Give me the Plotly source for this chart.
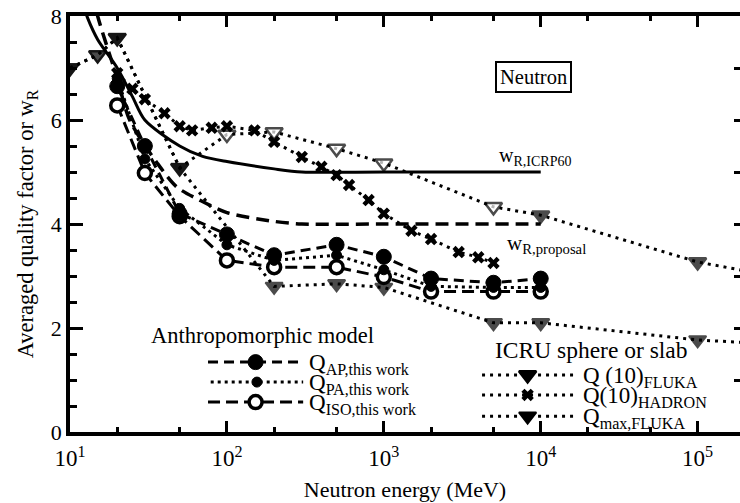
import plotly.graph_objects as go

# ---- neutron energies (MeV) and averaged quality factors ----
e_this_work = [20, 30, 50, 100, 200, 500, 1000, 2000, 5000, 10000]
q_ap = [6.65, 5.5, 4.2, 3.8, 3.4, 3.6, 3.37, 2.95, 2.87, 2.95]
q_pa = [6.8, 5.25, 4.3, 3.6, 3.3, 3.4, 3.12, 2.8, 2.78, 2.78]
q_iso = [6.28, 4.98, 4.15, 3.3, 3.17, 3.17, 2.98, 2.7, 2.7, 2.7]

e_q10_fluka = [10, 15, 20, 50, 100, 200, 500, 1000, 5000, 10000, 1e5, 2e5]
q10_fluka = [7.0, 7.25, 7.58, 5.08, 5.72, 5.77, 5.45, 5.17, 4.33, 4.17, 3.27, 3.1]
q10_fluka_open = [False, True, False, False, True, True, True, True, True, False, False, False]

e_qmax_fluka = [10, 15, 20, 50, 200, 500, 1000, 5000, 10000, 1e5, 2e5]
qmax_fluka = [7.0, 7.25, 7.58, 5.08, 2.8, 2.85, 2.78, 2.1, 2.1, 1.77, 1.72]

e_q10_hadron = [20, 25, 30, 40, 50, 60, 80, 100, 150, 200, 300, 400, 500,
                600, 800, 1000, 1500, 2000, 3000, 4000, 5000]
q10_hadron = [6.9, 6.6, 6.4, 6.13, 5.88, 5.8, 5.85, 5.88, 5.8, 5.58, 5.29, 5.1,
              4.94, 4.75, 4.46, 4.2, 3.87, 3.71, 3.46, 3.36, 3.25]

# radiation weighting factors
e_wr_icrp60 = [11, 13, 15, 20, 25, 30, 50, 70, 100, 200, 300, 1000, 10000]
wr_icrp60 = [8.6, 7.95, 7.55, 7.0, 6.45, 6.0, 5.5, 5.3, 5.2, 5.06, 5.0, 5.0, 5.0]

e_wr_proposal = [13, 15, 20, 24, 36, 48, 67, 100, 200, 300, 1000, 10000]
wr_proposal = [8.8, 8.0, 6.8, 6.0, 5.17, 4.71, 4.46, 4.22, 4.05, 4.0, 4.0, 4.0]

x_tick_vals = [10, 100, 1000, 10000, 100000]
x_tick_text = ["10<sup>1</sup>", "10<sup>2</sup>", "10<sup>3</sup>",
               "10<sup>4</sup>", "10<sup>5</sup>"]
x_minor_vals = [20, 50, 200, 500, 2000, 5000, 20000, 50000]

FONT = "Liberation Serif"
BLACK = "black"

# line / marker styles
DASH_AP = "10px,6px"
DASH_ISO = "12px,6px"
DOT = "3px,4px"
DOT_ICRU = "3px,5px"
DASH_PROP = "13px,7px"

STYLES = {
    "ap": dict(dash=DASH_AP, symbol="circle", size=15, fill=BLACK, lw=1),
    "pa": dict(dash=DOT, symbol="circle", size=10, fill=BLACK, lw=1),
    "iso": dict(dash=DASH_ISO, symbol="circle", size=13, fill="white", lw=3.5),
    "fluka": dict(dash=DOT_ICRU, symbol="triangle-down", size=15, fill=BLACK, lw=2.5),
    "hadron": dict(dash=DOT_ICRU, symbol="x", size=11, fill=BLACK, lw=0),
    "qmax": dict(dash=DOT_ICRU, symbol="triangle-down", size=15, fill=BLACK, lw=2),
}

fig = go.Figure()

# weighting-factor curves
fig.add_trace(go.Scatter(
    x=e_wr_icrp60, y=wr_icrp60, mode="lines",
    line=dict(color=BLACK, width=3, shape="spline", smoothing=0.8),
    showlegend=False, hoverinfo="skip"))
fig.add_trace(go.Scatter(
    x=e_wr_proposal, y=wr_proposal, mode="lines",
    line=dict(color=BLACK, width=3.5, dash=DASH_PROP, shape="spline", smoothing=0.8),
    showlegend=False, hoverinfo="skip"))


def add_series(x, y, key, fills=None, sizes=None):
    st = STYLES[key]
    fig.add_trace(go.Scatter(
        x=x, y=y, mode="lines+markers",
        line=dict(color=BLACK, width=3, dash=st["dash"]),
        marker=dict(symbol=st["symbol"],
                    size=sizes if sizes is not None else st["size"],
                    color=fills if fills is not None else st["fill"],
                    line=dict(color=BLACK, width=st["lw"])),
        showlegend=False, hoverinfo="skip"))


# ICRU sphere / slab calculations
fl_fill = ["white" if o else BLACK for o in q10_fluka_open]
fl_size = [STYLES["fluka"]["size"]] * (len(e_q10_fluka) - 1) + [0]
add_series(e_q10_fluka, q10_fluka, "fluka", fills=fl_fill, sizes=fl_size)
add_series(e_q10_hadron, q10_hadron, "hadron")
qm_size = [STYLES["qmax"]["size"]] * (len(e_qmax_fluka) - 1) + [0]
add_series(e_qmax_fluka, qmax_fluka, "qmax", sizes=qm_size)

# anthropomorphic model results
add_series(e_this_work, q_iso, "iso")
add_series(e_this_work, q_pa, "pa")
add_series(e_this_work, q_ap, "ap")

# empty trace so the right-hand tick axis is drawn
fig.add_trace(go.Scatter(x=[], y=[], yaxis="y2", showlegend=False, hoverinfo="skip"))

# ---- keys, drawn on a hidden unit-square overlay ----
KEYS = [
    # (style, y, x0, x1, label, label_x)
    ("ap", 0.168, 0.206, 0.348, "Q<sub>AP,this work</sub>", 0.354),
    ("pa", 0.120, 0.210, 0.348, "Q<sub>PA,this work</sub>", 0.354),
    ("iso", 0.072, 0.206, 0.348, "Q<sub>ISO,this work</sub>", 0.354),
    ("fluka", 0.137, 0.615, 0.751, "Q (10)<sub>FLUKA</sub>", 0.763),
    ("hadron", 0.089, 0.615, 0.751, "Q(10)<sub>HADRON</sub>", 0.763),
    ("qmax", 0.038, 0.615, 0.751, "Q<sub>max,FLUKA</sub>", 0.763),
]


def text_note(x, y, text, size, xanchor="left", **extra):
    return dict(x=x, y=y, xref="paper", yref="paper", text=text, showarrow=False,
                xanchor=xanchor, yanchor="middle",
                font=dict(family=FONT, size=size, color=BLACK), **extra)


annotations = []
for key, ky, x0, x1, label, lx in KEYS:
    st = STYLES[key]
    xm = (x0 + x1) / 2
    fig.add_trace(go.Scatter(
        x=[x0, x1], y=[ky, ky], mode="lines", xaxis="x2", yaxis="y3",
        line=dict(color=BLACK, width=3, dash=st["dash"]),
        showlegend=False, hoverinfo="skip"))
    fig.add_trace(go.Scatter(
        x=[xm], y=[ky], mode="markers", xaxis="x2", yaxis="y3",
        marker=dict(symbol=st["symbol"], size=st["size"], color=st["fill"],
                    line=dict(color=BLACK, width=st["lw"])),
        showlegend=False, hoverinfo="skip"))
    annotations.append(text_note(lx, ky - 0.004, label, 23))

annotations += [
    text_note(0.287, 0.231, "Anthropomorphic model", 22.5, xanchor="center"),
    text_note(0.779, 0.197, "ICRU sphere or slab", 23.5, xanchor="center"),
    text_note(0.692, 0.853, "Neutron", 20.5, xanchor="center",
              bordercolor=BLACK, borderwidth=2, borderpad=3),
    text_note(0.637, 0.662, "w<sub>R,ICRP60</sub>", 20),
    text_note(0.649, 0.452, "w<sub>R,proposal</sub>", 21),
]

fig.update_layout(
    width=740, height=503,
    margin=dict(l=70, r=0, t=16, b=71),
    paper_bgcolor="white", plot_bgcolor="white",
    font=dict(family=FONT, size=20, color=BLACK),
    showlegend=False,
    annotations=annotations,
    xaxis=dict(
        type="log", range=[1, 5.27], showgrid=False, zeroline=False,
        tickmode="array", tickvals=x_tick_vals, ticktext=x_tick_text,
        ticks="inside", ticklen=11, tickwidth=3, tickcolor=BLACK,
        showline=True, linewidth=3.5, linecolor=BLACK, mirror="ticks",
        minor=dict(tickvals=x_minor_vals, ticks="inside", ticklen=5,
                   tickwidth=3, tickcolor=BLACK, showgrid=False),
        tickfont=dict(family=FONT, size=23), ticklabelstandoff=3,
        title=dict(text="Neutron energy (MeV)", font=dict(family=FONT, size=22),
                   standoff=12),
    ),
    yaxis=dict(
        range=[0, 8], showgrid=False, zeroline=False,
        tickmode="linear", tick0=0, dtick=2,
        ticks="inside", ticklen=13, tickwidth=3, tickcolor=BLACK,
        showline=True, linewidth=3.5, linecolor=BLACK,
        minor=dict(dtick=0.5, ticks="inside", ticklen=7, tickwidth=3,
                   tickcolor=BLACK, showgrid=False),
        tickfont=dict(family=FONT, size=22),
        title=dict(text="Averaged quality factor or w<sub>R</sub>",
                   font=dict(family=FONT, size=22.5), standoff=12),
    ),
    yaxis2=dict(
        overlaying="y", side="right", anchor="x", range=[0, 8],
        tickmode="linear", tick0=0, dtick=1, ticks="inside", ticklen=6,
        tickwidth=3, tickcolor=BLACK, showticklabels=False, showline=False,
        showgrid=False, zeroline=False,
    ),
    xaxis2=dict(overlaying="x", anchor="y3", range=[0, 1], visible=False),
    yaxis3=dict(overlaying="y", anchor="x2", range=[0, 1], visible=False),
)

fig.write_html("out.html")
